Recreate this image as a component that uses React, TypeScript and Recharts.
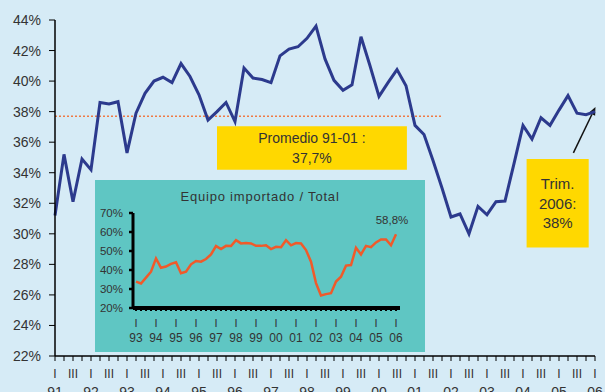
import React from "react";
import {
  ComposedChart,
  LineChart,
  Line,
  XAxis,
  YAxis,
  ReferenceLine,
  ReferenceArea,
} from "recharts";

// Inversión en equipo, % — trimestral, 91.I a 06.I
const YEARS = ["91", "92", "93", "94", "95", "96", "97", "98", "99", "00", "01", "02", "03", "04", "05", "06"];
const INVERSION = [
  31.2, 35.2, 32.1, 34.9, 34.2, 38.6, 38.5, 38.65, 35.3, 37.9,
  39.2, 40.0, 40.25, 39.9, 41.15, 40.3, 39.1, 37.45, 38.0, 38.6,
  37.35, 40.85, 40.2, 40.1, 39.9, 41.65, 42.1, 42.25, 42.8, 43.6,
  41.45, 40.05, 39.4, 39.75, 42.9, 41.0, 39.0, 39.9, 40.75, 39.7,
  37.1, 36.5, 34.8, 33.0, 31.1, 31.3, 30.0, 31.8, 31.25, 32.1,
  32.15, 34.6, 37.1, 36.2, 37.6, 37.1, 38.1, 39.05, 37.9, 37.8,
  38.0,
];
const Y_TICKS = [22, 24, 26, 28, 30, 32, 34, 36, 38, 40, 42, 44];
const PROMEDIO = 37.7;

// Equipo importado / Total, % — trimestral, 93.I a 06.I
const INSET_YEARS = ["93", "94", "95", "96", "97", "98", "99", "00", "01", "02", "03", "04", "05", "06"];
const IMPORTADO = [
  33.9, 32.9, 36.0, 39.1, 46.1, 41.2, 41.8, 43.2, 44.1, 38.3,
  39.1, 43.0, 44.7, 44.4, 45.8, 48.2, 52.6, 51.0, 52.7, 52.6,
  55.7, 54.0, 54.2, 54.0, 52.7, 52.7, 53.0, 51.0, 52.2, 52.0,
  55.7, 53.0, 54.2, 54.0, 50.5, 44.4, 33.1, 26.6, 27.3, 27.8,
  33.9, 36.5, 42.3, 42.6, 51.7, 48.2, 52.7, 52.0, 54.5, 56.1,
  56.1, 53.0, 58.8,
];
const INSET_Y_TICKS = [20, 30, 40, 50, 60, 70];

const FONT = "'Liberation Sans', Arial, sans-serif";
const TEXT = "#333333";

const mainRows = INVERSION.map((v, i) => ({ q: i, v }));
const mainQuarters = INVERSION.map((_, i) => i);
const insetRows = IMPORTADO.map((v, i) => ({ q: i, v }));
const insetQuarters = IMPORTADO.map((_, i) => i);

const QuarterTick = (props: any) => {
  const { x, y, payload } = props;
  const q = payload.value as number;
  if (q % 2 !== 0) return <g />;
  return (
    <g fontFamily={FONT} fill={TEXT} textAnchor="middle">
      <text x={x} y={y + 17} fontSize={12}>{q % 4 === 0 ? "I" : "III"}</text>
      {q % 4 === 0 && (
        <text x={x} y={y + 36} fontSize={14}>{YEARS[q / 4]}</text>
      )}
    </g>
  );
};

const InsetTick = (props: any) => {
  const { x, y, payload } = props;
  const q = payload.value as number;
  if (q % 4 !== 0) return <g />;
  return (
    <g fontFamily={FONT} fill={TEXT} textAnchor="middle">
      <text x={x} y={y + 16} fontSize={11}>I</text>
      <text x={x} y={y + 31} fontSize={12}>{INSET_YEARS[q / 4]}</text>
    </g>
  );
};

const boxText = (lines: string[], fontSize: number, lineGap: number) => (p: any) => {
  const { x, y, width, height } = p.viewBox;
  const cx = x + width / 2;
  const top = y + height / 2 - ((lines.length - 1) * lineGap) / 2;
  return (
    <text x={cx} textAnchor="middle" fontFamily={FONT} fontSize={fontSize} fill={TEXT}>
      {lines.map((l, k) => (
        <tspan key={k} x={cx} y={top + k * lineGap} dy="0.36em">{l}</tspan>
      ))}
    </text>
  );
};

const Arrow = (p: any) => {
  const { x1, y1, x2, y2 } = p;
  const a = Math.atan2(y2 - y1, x2 - x1);
  const len = 8;
  const w = 3.5;
  const bx = x2 - len * Math.cos(a);
  const by = y2 - len * Math.sin(a);
  const pts = [
    `${x2},${y2}`,
    `${bx + w * Math.sin(a)},${by - w * Math.cos(a)}`,
    `${bx - w * Math.sin(a)},${by + w * Math.cos(a)}`,
  ].join(" ");
  return (
    <g>
      <line x1={x1} y1={y1} x2={bx} y2={by} stroke="#111" strokeWidth={1.5} />
      <polygon points={pts} fill="#111" />
    </g>
  );
};

const ValueLabel = (p: any) => {
  const { x, y, index } = p;
  if (index !== IMPORTADO.length - 1) return null;
  return (
    <text x={x - 4} y={y - 10} textAnchor="middle" fontFamily={FONT} fontSize={11.5} fill={TEXT}>
      {`${IMPORTADO[index].toFixed(1).replace(".", ",")}%`}
    </text>
  );
};

function Inset() {
  return (
    <div style={{ position: "absolute", left: 95, top: 180, width: 330, height: 172, background: "#5fc6c3" }}>
      <div
        style={{
          position: "absolute",
          left: 0,
          top: 9,
          width: 330,
          textAlign: "center",
          fontFamily: FONT,
          fontSize: 13,
          letterSpacing: 0.8,
          color: TEXT,
        }}
      >
        Equipo importado / Total
      </div>
      <LineChart width={330} height={172} data={insetRows} margin={{ top: 33, right: 25, bottom: 0, left: 0 }}>
        <XAxis
          dataKey="q"
          type="number"
          domain={[-0.6, 52.8]}
          ticks={insetQuarters}
          interval={0}
          height={44}
          axisLine={{ stroke: "#000", strokeWidth: 4 }}
          tickLine={{ stroke: "#000", strokeWidth: 2 }}
          tickSize={3}
          tickMargin={0}
          tick={<InsetTick />}
        />
        <YAxis
          type="number"
          domain={[20, 70]}
          ticks={INSET_Y_TICKS}
          width={38}
          axisLine={{ stroke: "#000", strokeWidth: 3 }}
          tickLine={{ stroke: "#000", strokeWidth: 2.5 }}
          tickSize={4}
          tickMargin={6}
          tick={{ fill: TEXT, fontSize: 11.5, fontFamily: FONT }}
          tickFormatter={(v) => `${v}%`}
        />
        <Line
          type="linear"
          dataKey="v"
          stroke="#f05a2a"
          strokeWidth={2.5}
          dot={false}
          label={<ValueLabel />}
          isAnimationActive={false}
        />
      </LineChart>
    </div>
  );
}

export default function App() {
  return (
    <div
      style={{
        position: "absolute",
        left: 0,
        top: 0,
        width: 605,
        height: 392,
        overflow: "hidden",
        background: "#d6ebf6",
      }}
    >
      <ComposedChart width={605} height={392} data={mainRows} margin={{ top: 20, right: 10, bottom: 0, left: 0 }}>
        <XAxis
          dataKey="q"
          type="number"
          domain={[0, 60]}
          ticks={mainQuarters}
          interval={0}
          height={36}
          axisLine={{ stroke: "#000", strokeWidth: 1.5 }}
          tickLine={{ stroke: "#000", strokeWidth: 1 }}
          tickSize={5}
          tickMargin={0}
          tick={<QuarterTick />}
        />
        <YAxis
          type="number"
          domain={[22, 44]}
          ticks={Y_TICKS}
          width={55}
          axisLine={{ stroke: "#000", strokeWidth: 1.5 }}
          tickLine={{ stroke: "#000", strokeWidth: 1 }}
          tickSize={6}
          tickMargin={8}
          tick={{ fill: TEXT, fontSize: 14, fontFamily: FONT }}
          tickFormatter={(v) => `${v}%`}
        />
        <ReferenceArea
          x1={18}
          x2={39.1}
          y1={34.2}
          y2={37.05}
          fill="#ffd800"
          fillOpacity={1}
          stroke="none"
          label={boxText(["Promedio 91-01 :", `${PROMEDIO.toFixed(1).replace(".", ",")}%`], 14, 20)}
        />
        <ReferenceArea
          x1={52.4}
          x2={59.3}
          y1={29.1}
          y2={34.9}
          fill="#ffd800"
          fillOpacity={1}
          stroke="none"
          label={boxText(["Trim.", "2006:", `${INVERSION[INVERSION.length - 1]}%`], 15, 19.5)}
        />
        <ReferenceLine
          segment={[{ x: 0, y: PROMEDIO }, { x: 43, y: PROMEDIO }]}
          stroke="#ef7a45"
          strokeWidth={1.5}
          strokeDasharray="2 2"
          ifOverflow="visible"
        />
        <ReferenceLine
          segment={[{ x: 57.6, y: 35.3 }, { x: 60.05, y: 38.3 }]}
          ifOverflow="visible"
          shape={<Arrow />}
        />
        <Line
          type="linear"
          dataKey="v"
          stroke="#2c3a8d"
          strokeWidth={3}
          dot={false}
          isAnimationActive={false}
        />
      </ComposedChart>
      <Inset />
    </div>
  );
}
